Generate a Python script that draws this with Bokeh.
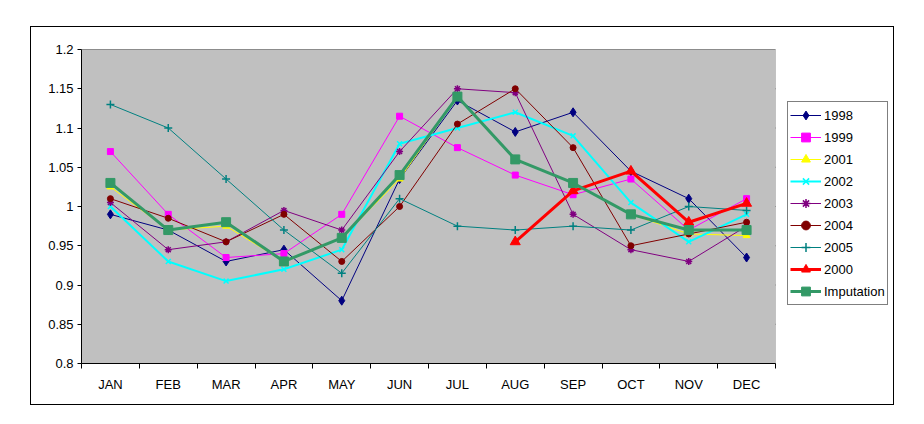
from bokeh.plotting import figure
from bokeh.models import FixedTicker, Legend, Range1d, BoxAnnotation
from bokeh.embed import file_html
from bokeh.resources import INLINE

nan = float("nan")

months = ["JAN", "FEB", "MAR", "APR", "MAY", "JUN", "JUL", "AUG", "SEP", "OCT", "NOV", "DEC"]
y_ticks = [0.8, 0.85, 0.9, 0.95, 1.0, 1.05, 1.1, 1.15, 1.2]
y_labels = ["0.8", "0.85", "0.9", "0.95", "1", "1.05", "1.1", "1.15", "1.2"]

s1998 = [0.99, 0.97, 0.93, 0.945, 0.88, 1.035, 1.135, 1.095, 1.12, 1.045, 1.01, 0.935]
s1999 = [1.07, 0.99, 0.935, 0.94, 0.99, 1.115, 1.075, 1.04, 1.015, 1.035, 0.97, 1.01]
s2001 = [1.025, 0.97, 0.975, 0.93, 0.96, 1.035, 1.14, 1.06, 1.03, 0.99, 0.965, 0.963]
s2002 = [1.0, 0.93, 0.905, 0.92, 0.945, 1.08, 1.10, 1.12, 1.09, 1.005, 0.955, 0.99]
s2003 = [1.005, 0.945, 0.955, 0.995, 0.97, 1.07, 1.15, 1.145, 0.99, 0.945, 0.93, 0.975]
s2004 = [1.01, 0.985, 0.955, 0.99, 0.93, 1.0, 1.105, 1.15, 1.075, 0.95, 0.965, 0.98]
s2005 = [1.13, 1.10, 1.035, 0.97, 0.915, 1.01, 0.975, 0.97, 0.975, 0.97, 1.0, 0.995]
s2000 = [nan, nan, nan, nan, nan, nan, nan, 0.955, 1.02, 1.045, 0.98, 1.004]
imputation = [1.03, 0.97, 0.98, 0.93, 0.96, 1.04, 1.14, 1.06, 1.03, 0.99, 0.97, 0.97]

x = list(range(1, len(months) + 1))
x_lo, x_hi = 0.5, len(months) + 0.5
y_lo, y_hi = y_ticks[0], y_ticks[-1]

FONT = "Liberation Sans"

FIG_W, FIG_H = 864, 379
LEFT, TOP, BOTTOM = 50, 22, 43
PLOT_W = 694               # width of the grey plot area in px
LEGEND_W = FIG_W - LEFT - PLOT_W   # area to the right holding the legend
x_end = x_hi + LEGEND_W / (PLOT_W / len(months))

p = figure(width=FIG_W, height=FIG_H, output_backend="svg", toolbar_location=None,
           x_range=Range1d(x_lo, x_end), y_range=Range1d(y_lo, y_hi),
           min_border_left=LEFT, min_border_top=TOP, min_border_bottom=BOTTOM, min_border_right=0,
           background_fill_color="white", border_fill_color="white",
           outline_line_color=None)
p.margin = (26, 0, 0, 30)
p.styles = {"border": "1px solid black"}

# grey plot area
p.add_layout(BoxAnnotation(left=x_lo, right=x_hi, bottom=y_lo, top=y_hi,
                           fill_color="#C0C0C0", fill_alpha=1,
                           line_color="#808080", line_width=1, level="underlay"))

# grid lines limited to the plot area
p.xgrid.grid_line_color = None
p.ygrid.grid_line_color = None
p.segment(x0=[x_lo] * len(y_ticks), x1=[x_hi] * len(y_ticks), y0=y_ticks, y1=y_ticks,
          line_color="black", line_width=1, level="underlay")

# y axis
p.yaxis.ticker = FixedTicker(ticks=y_ticks)
p.yaxis.major_label_overrides = {t: l for t, l in zip(y_ticks, y_labels)}
p.yaxis.major_tick_out = 4
p.yaxis.major_tick_in = 0
p.yaxis.minor_tick_line_color = None
p.yaxis.major_label_standoff = 4
p.yaxis.axis_line_color = "black"

# x axis: labels at centers, ticks at category boundaries
p.xaxis.ticker = FixedTicker(ticks=x, minor_ticks=[v - 0.5 for v in x] + [x_hi])
p.xaxis.major_label_overrides = {i: m for i, m in zip(x, months)}
p.xaxis.bounds = (x_lo, x_hi)
p.xaxis.major_tick_line_color = None
p.xaxis.major_tick_out = 5
p.xaxis.major_tick_in = 0
p.xaxis.minor_tick_out = 5
p.xaxis.minor_tick_in = 0
p.xaxis.minor_tick_line_color = "black"
p.xaxis.major_label_standoff = 8
p.xaxis.axis_line_color = "black"

for ax in (p.xaxis[0], p.yaxis[0]):
    ax.major_label_text_font = FONT
    ax.major_label_text_font_size = "13px"
    ax.major_label_text_color = "black"

series = [
    ("1998", s1998, "#000080", "diamond", 9, 1),
    ("1999", s1999, "#FF00FF", "square", 6, 1),
    ("2001", s2001, "#FFFF00", "triangle", 7, 1),
    ("2002", s2002, "#00FFFF", "x", 7, 2),
    ("2003", s2003, "#800080", "asterisk", 7, 1),
    ("2004", s2004, "#800000", "circle", 6, 1),
    ("2005", s2005, "#008080", "cross", 8, 1),
    ("2000", s2000, "#FF0000", "triangle", 10, 3),
    ("Imputation", imputation, "#339966", "square", 9, 3),
]

items = []
for name, ys, color, marker, size, lw in series:
    r1 = p.line(x, ys, line_color=color, line_width=lw)
    r2 = p.scatter(x, ys, marker=marker, size=size, fill_color=color, line_color=color,
                   line_width=1.5 if marker in ("x", "asterisk", "cross") else 1)
    items.append((name, [r1, r2]))

legend = Legend(items=items, location=(PLOT_W + 12, 58), orientation="vertical")
legend.label_text_font = FONT
legend.label_text_font_size = "13px"
legend.label_text_color = "black"
legend.border_line_color = "black"
legend.border_line_width = 1
legend.background_fill_color = "white"
legend.background_fill_alpha = 1
legend.padding = 2
legend.spacing = 0
legend.margin = 0
legend.glyph_width = 31
legend.glyph_height = 22
legend.label_height = 22
legend.label_standoff = 3
p.add_layout(legend, "center")

open("out.html", "w").write(file_html(p, INLINE))
